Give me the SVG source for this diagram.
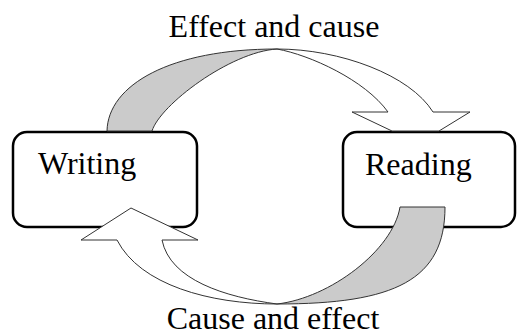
<svg xmlns="http://www.w3.org/2000/svg" width="517" height="336" viewBox="0 0 517 336">
<style>
.box{fill:#fff;stroke:#000;stroke-width:2.5}
.lbl{font-family:"Liberation Serif","Times New Roman",serif;font-size:32px;fill:#000}
.front{fill:#fff;stroke:#333;stroke-width:1;stroke-linejoin:miter}
.back{fill:#cbcbcb;stroke:#333;stroke-width:1}
</style>
<rect width="517" height="336" fill="#fff"/>
<g id="writing">
<rect class="box" x="13" y="132" width="184" height="95" rx="14" ry="14"/>
<text class="lbl" x="38" y="174">Writing</text>
</g>
<g id="reading">
<rect class="box" x="343" y="132" width="172" height="95" rx="14" ry="14"/>
<text class="lbl" x="365" y="175">Reading</text>
</g>
<g id="connectors">
<g id="arrow-top">
<path class="back" d="M107,131 C108,85 170,49 277,49 C230,52 160,105 152,131 Z"/>
<path class="front" d="M277,49 C340,49 410,75 433,112 L470,112 L439,131 L392,131 L352,112 L388,112 C365,80 310,55 277,49 Z"/>
</g>
<g id="arrow-bottom">
<path class="back" d="M445,207 C445,280 395,304 277,304 C330,298 393,250 400,207 Z"/>
<path class="front" d="M277,304 C210,304 140,285 117,240 L81,240 L131,208 L198,240 L162,240 C170,280 225,297 277,304 Z"/>
</g>
</g>
<text class="lbl" x="274" y="37" text-anchor="middle">Effect and cause</text>
<text class="lbl" x="273" y="329" text-anchor="middle" font-size="31">Cause and effect</text>
</svg>
